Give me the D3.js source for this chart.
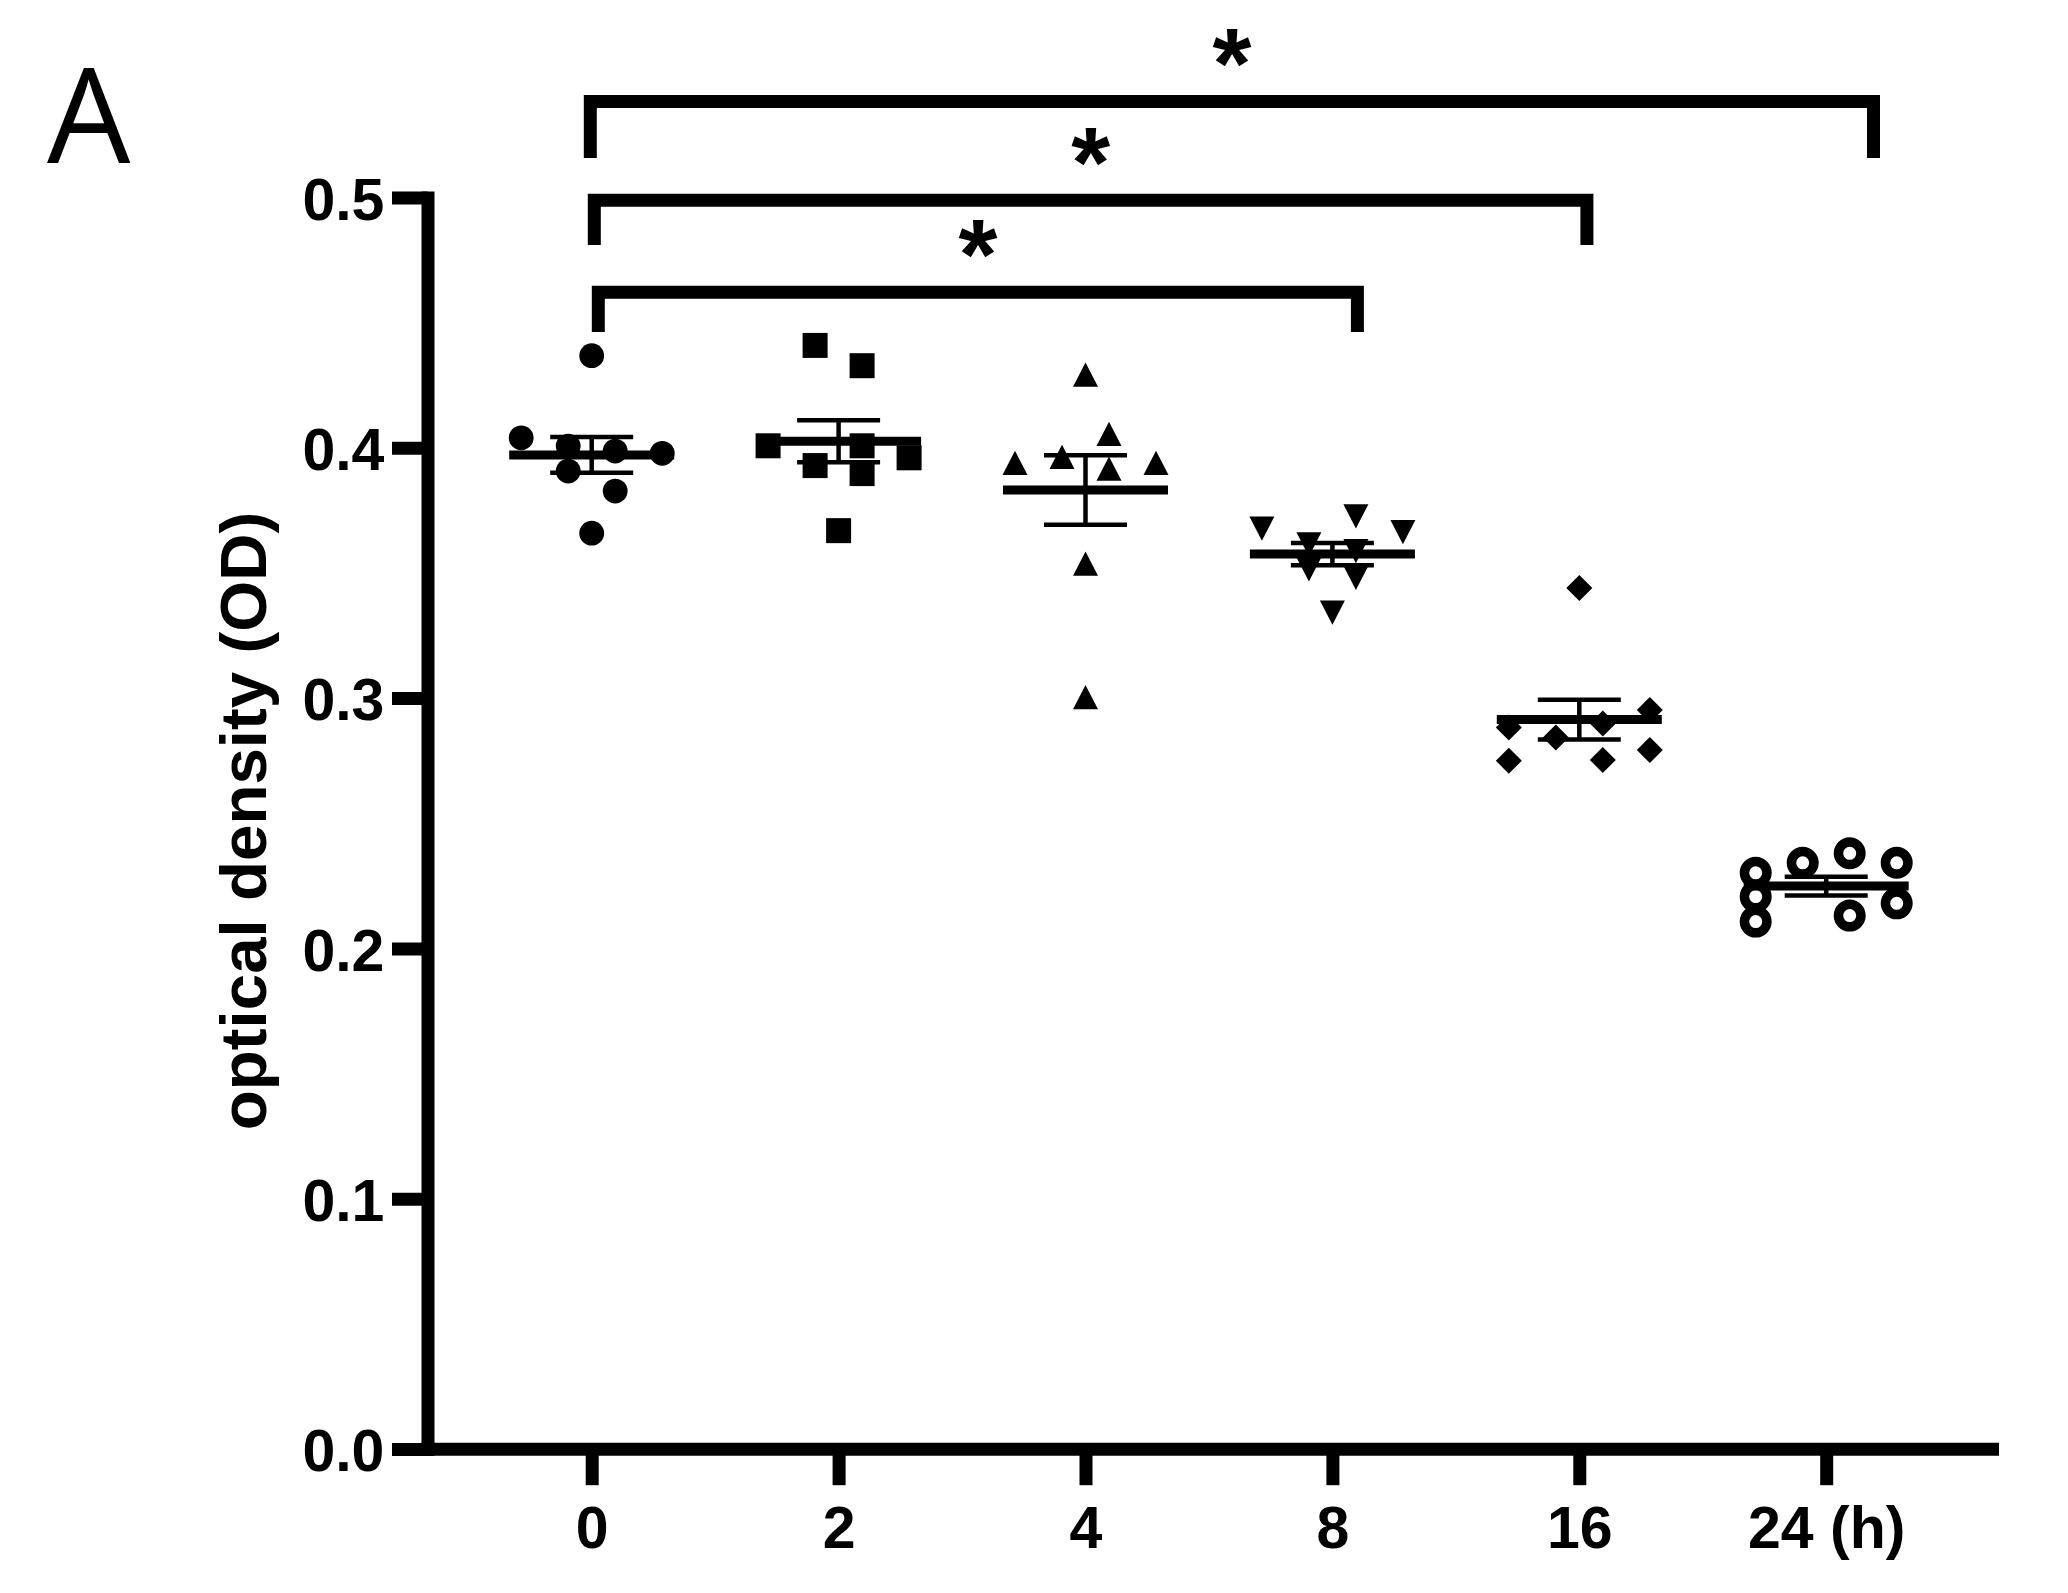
<!DOCTYPE html>
<html>
<head>
<meta charset="utf-8">
<script src="https://cdn.jsdelivr.net/npm/d3@7"></script>
<style>
  html, body { margin: 0; padding: 0; background: #fff; }
  svg { display: block; }
</style>
</head>
<body>
<svg id="chart" width="2068" height="1593"></svg>
<script>
// ---------------- data ----------------
const categories = ["0", "2", "4", "8", "16", "24"];
const tickLabels = ["0", "2", "4", "8", "16", "24 (h)"];
const yTicks = [0, 0.1, 0.2, 0.3, 0.4, 0.5];
const yTitle = "optical density (OD)";
const panelLabel = "A";

const od0  = [0.4368, 0.4040, 0.4007, 0.3987, 0.3978, 0.3907, 0.3827, 0.3659];
const od2  = [0.4409, 0.4328, 0.4008, 0.4008, 0.3960, 0.3929, 0.3897, 0.3669];
const od4  = [0.4292, 0.4056, 0.3964, 0.3940, 0.3940, 0.3917, 0.3537, 0.3004];
const od8  = [0.3726, 0.3677, 0.3663, 0.3614, 0.3587, 0.3514, 0.3480, 0.3341];
const od16 = [0.3440, 0.2952, 0.2899, 0.2883, 0.2843, 0.2793, 0.2753, 0.2750];
const od24 = [0.2380, 0.2342, 0.2342, 0.2302, 0.2207, 0.2180, 0.2131, 0.2107];

// horizontal scatter slot of each point (layout of the column scatter)
const slots0  = [0, -3, -1, 1, 3, -1, 1, 0];
const slots2  = [-1, 1, -3, 1, 3, -1, 1, 0];
const slots4  = [0, 1, -1, -3, 3, 1, 0, 0];
const slots8  = [1, -3, 3, -1, 1, -1, 1, 0];
const slots16 = [0, 3, 1, -3, -1, 3, 1, -3];
const slots24 = [1, -1, 3, -3, -3, 3, 1, -3];

const markerTypes = ["circle", "square", "triangle", "triangleDown", "diamond", "openCircle"];

// significance comparisons
const compFrom   = ["0", "0", "0"];
const compTo     = ["8", "16", "24"];
const compLabel  = ["*", "*", "*"];
const compY      = [0.4621, 0.4989, 0.5384];
const compDrop   = [0.0158, 0.0179, 0.0226];

// ---------------- layout ----------------
const FONT = '"Liberation Sans", Arial, sans-serif';
const axisX = 427.5, axisYPix = 1449.2, axisRight = 1999;
const yTop = 197.5;
const xFirst = 591.7, xLast = 1826.2;
const slotUnit = 23.5;
const lw = 13;
const bracketLeftOff  = [6.6, 2.6, -1.4];
const bracketRightOff = [25, 7.6, 47.3];

const svg = d3.select("#chart");

const x = d3.scalePoint().domain(categories).range([xFirst, xLast]);
const y = d3.scaleLinear().domain([0, 0.5]).range([1449, yTop]);

// ---------------- custom symbols ----------------
const symTypes = {
  circle: { draw(c, s) { c.moveTo(s, 0); c.arc(0, 0, s, 0, 2 * Math.PI); } },
  square: { draw(c, s) { c.rect(-s, -s, 2 * s, 2 * s); } },
  triangle: { draw(c, s) { const h = s * 0.97; c.moveTo(0, -h); c.lineTo(s, h); c.lineTo(-s, h); c.closePath(); } },
  triangleDown: { draw(c, s) { const h = s * 0.97; c.moveTo(0, h); c.lineTo(s, -h); c.lineTo(-s, -h); c.closePath(); } },
  diamond: { draw(c, s) { c.moveTo(0, -s); c.lineTo(s, 0); c.lineTo(0, s); c.lineTo(-s, 0); c.closePath(); } },
  openCircle: { draw(c, s) { c.moveTo(s, 0); c.arc(0, 0, s, 0, 2 * Math.PI); } }
};
const symSize = { circle: 12.4, square: 12.5, triangle: 12.5, triangleDown: 12.5, diamond: 13, openCircle: 11.25 };

const groups = [
  { key: "0", vals: od0, slots: slots0 },
  { key: "2", vals: od2, slots: slots2 },
  { key: "4", vals: od4, slots: slots4 },
  { key: "8", vals: od8, slots: slots8 },
  { key: "16", vals: od16, slots: slots16 },
  { key: "24", vals: od24, slots: slots24 }
];

// ---------------- axes ----------------
const yAxis = d3.axisLeft(y)
  .tickValues(yTicks)
  .tickFormat(d3.format(".1f"))
  .tickSize(35.5)
  .tickSizeOuter(0)
  .tickPadding(7.6);

const gy = svg.append("g").attr("transform", `translate(${axisX},0)`).call(yAxis);
gy.select(".domain").attr("stroke", "#000").attr("stroke-width", lw).attr("stroke-linecap", "square");
gy.selectAll(".tick line").attr("stroke", "#000").attr("stroke-width", lw);
gy.selectAll(".tick text").attr("font-size", 59).attr("dy", "0.37em")
  .attr("font-family", FONT).attr("font-weight", "bold").attr("fill", "#000");

const xAxis = d3.axisBottom(x)
  .tickFormat((d, i) => tickLabels[i])
  .tickSize(36)
  .tickSizeOuter(0)
  .tickPadding(21);

const gx = svg.append("g").attr("transform", `translate(0,${axisYPix})`).call(xAxis);
gx.select(".domain").attr("d", `M${axisX - lw / 2},0H${axisRight}`)
  .attr("stroke", "#000").attr("stroke-width", lw);
gx.selectAll(".tick line").attr("stroke", "#000").attr("stroke-width", lw);
gx.selectAll(".tick text").attr("font-size", 59)
  .attr("font-family", FONT).attr("font-weight", "bold").attr("fill", "#000");

// y title
svg.append("text")
  .attr("transform", `translate(265.7,821) rotate(-90)`)
  .attr("text-anchor", "middle")
  .attr("font-family", FONT).attr("font-weight", "bold")
  .attr("font-size", 65.5)
  .attr("fill", "#000")
  .text(yTitle);

// panel label
svg.append("text")
  .attr("x", 47).attr("y", 162.7)
  .attr("font-family", '"Open Sans", "Noto Sans", sans-serif')
  .attr("font-weight", "normal")
  .attr("font-size", 132)
  .attr("fill", "#000")
  .text(panelLabel);

// ---------------- points ----------------
const gp = svg.append("g");
groups.forEach((g, gi) => {
  const t = markerTypes[gi];
  const sym = d3.symbol().type(symTypes[t]).size(symSize[t]);
  gp.selectAll(null)
    .data(g.vals.map((v, i) => ({ v, s: g.slots[i] })))
    .join("path")
    .attr("d", sym)
    .attr("transform", d => `translate(${x(g.key) + d.s * slotUnit},${y(d.v)})`)
    .attr("fill", t === "openCircle" ? "#fff" : "#000")
    .attr("stroke", t === "openCircle" ? "#000" : "none")
    .attr("stroke-width", t === "openCircle" ? 9.5 : 0);
});

// ---------------- mean ± SEM ----------------
const gs = svg.append("g").attr("stroke", "#000");
groups.forEach(g => {
  const m = d3.mean(g.vals);
  const sem = d3.deviation(g.vals) / Math.sqrt(g.vals.length);
  const cx = x(g.key);
  gs.append("line").attr("x1", cx - 82.5).attr("x2", cx + 82.5)
    .attr("y1", y(m)).attr("y2", y(m)).attr("stroke-width", 9);
  gs.append("line").attr("x1", cx).attr("x2", cx)
    .attr("y1", y(m - sem)).attr("y2", y(m + sem)).attr("stroke-width", 4.5);
  [m - sem, m + sem].forEach(v => {
    gs.append("line").attr("x1", cx - 41.5).attr("x2", cx + 41.5)
      .attr("y1", y(v)).attr("y2", y(v)).attr("stroke-width", 4.5);
  });
});

// ---------------- significance brackets ----------------
const gb = svg.append("g");
compFrom.forEach((f, i) => {
  const x1 = x(f) + bracketLeftOff[i];
  const x2 = x(compTo[i]) + bracketRightOff[i];
  const yb = y(compY[i]);
  const yd = y(compY[i] - compDrop[i]);
  gb.append("path")
    .attr("d", `M${x1},${yd}V${yb}H${x2}V${yd}`)
    .attr("fill", "none").attr("stroke", "#000").attr("stroke-width", lw)
    .attr("stroke-linejoin", "miter").attr("stroke-linecap", "butt");
  gb.append("text")
    .attr("x", (x1 + x2) / 2)
    .attr("y", yb - 3)
    .attr("text-anchor", "middle")
    .attr("font-family", FONT).attr("font-weight", "bold")
    .attr("font-size", 100)
    .attr("fill", "#000")
    .text(compLabel[i]);
});
</script>
</body>
</html>
